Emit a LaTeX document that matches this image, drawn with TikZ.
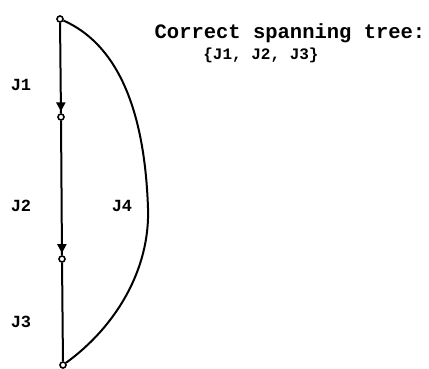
\documentclass[tikz,border=0pt]{standalone}
\usepackage{fontspec}
\setmonofont{Liberation Mono}
\usetikzlibrary{decorations.markings,arrows.meta}
\begin{document}
\begin{tikzpicture}[x=1pt,y=-1pt,
  vert/.style={circle,draw,line width=1.6pt,inner sep=0pt,minimum size=6pt,fill=white},
  edgeline/.style={line width=2pt},
  lbl/.style={font=\ttfamily\bfseries\fontsize{17}{19}\selectfont,inner sep=0pt},
  captext/.style={font=\ttfamily\bfseries\fontsize{20.5}{22}\selectfont,inner sep=0pt},
  arrowed/.style={postaction={decorate},decoration={markings,mark=at position #1 with {\arrow{Triangle[length=9pt,width=9pt]}}}}
]
\useasboundingbox (0,0) rectangle (429,368);
\node[vert] (a) at (60,19) {};
\node[vert] (b) at (61,117) {};
\node[vert] (c) at (62,259) {};
\node[vert] (d) at (63,365) {};
\draw[edgeline,arrowed=0.98] (a) -- (b);
\draw[edgeline,arrowed=0.985] (b) -- (c);
\draw[edgeline] (c) -- (d);
\draw[edgeline] (a) to[out=-24,in=92,looseness=0.9] (148,208) coordinate (m) to[out=-88,in=36,looseness=0.9] (d);
\node[lbl] (l1) at (21,85) {J1};
\node[lbl] (l2) at (21,206) {J2};
\node[lbl] (l4) at (122,206) {J4};
\node[lbl] (l3) at (21,322) {J3};
\node[captext] (t1) at (290,33) {Correct spanning tree:};
\node[lbl,font=\ttfamily\bfseries\fontsize{16}{18}\selectfont] (t2) at (261,55) {\{J1, J2, J3\}};
\end{tikzpicture}
\end{document}
